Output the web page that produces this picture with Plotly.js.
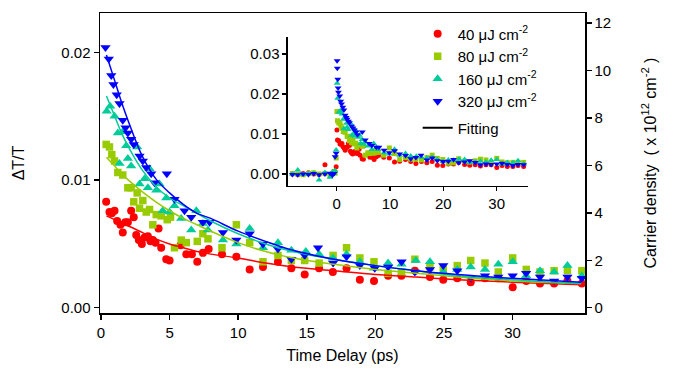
<!DOCTYPE html>
<html><head><meta charset="utf-8">
<script src="https://cdn.plot.ly/plotly-3.0.1.min.js"></script>
<style>html,body{margin:0;padding:0;background:#fff}#plot{width:681px;height:373px}</style>
</head><body><div id="plot"></div>
<script>
// ---- series labels ----
const seriesNames = ['40 μJ cm<sup>-2</sup>','80 μJ cm<sup>-2</sup>','160 μJ cm<sup>-2</sup>','320 μJ cm<sup>-2</sup>'];
const fitName = 'Fitting';

// ---- main data (t in ps, ΔT/T) ----
const t40 = [0.38,0.62,0.79,0.99,1.18,1.42,1.59,1.77,1.96,2.2,2.39,2.57,2.76,2.98,3.18,3.42,3.61,3.78,3.98,4.2,4.39,4.76,5.0,5.8,6.22,6.63,7.02,7.43,7.85,8.82,9.87,10.84,11.81,12.9,13.88,14.85,15.9,16.9,17.9,18.87,19.9,20.93,21.9,22.88,23.98,24.95,25.97,26.95,27.99,28.96,30.01,31.0,32.0,33.03,34.0,35.05];
const v40 = [0.0083,0.0075,0.0074,0.0076,0.0068,0.0065,0.0059,0.0067,0.0067,0.0076,0.0071,0.0057,0.0053,0.0050,0.0055,0.0056,0.0052,0.0053,0.0051,0.0062,0.0047,0.0038,0.0037,0.0049,0.0042,0.0042,0.0036,0.0043,0.0046,0.0042,0.0040,0.0030,0.0032,0.0036,0.0031,0.0026,0.0031,0.0028,0.0031,0.0022,0.0021,0.0025,0.0025,0.0029,0.0024,0.0022,0.0023,0.0020,0.0023,0.0023,0.0016,0.0021,0.0019,0.0019,0.0021,0.0019];

const t80 = [0.38,0.62,0.79,0.99,1.23,1.59,1.96,2.2,2.39,2.64,2.81,3.05,3.3,3.54,3.78,4.03,4.39,4.83,5.07,5.36,5.85,6.22,7.02,7.43,7.8,8.82,9.87,10.84,11.81,12.9,13.88,14.85,15.9,16.92,17.9,18.87,19.9,20.93,21.9,22.88,23.98,24.95,25.97,26.95,27.99,28.96,30.01,31.0,32.0,33.03,34.0,35.05];
const v80 = [0.0128,0.0126,0.0120,0.0115,0.0106,0.0104,0.0094,0.0094,0.0083,0.0090,0.0078,0.0084,0.0075,0.0077,0.0065,0.0073,0.0072,0.0069,0.0071,0.0047,0.0053,0.0051,0.0052,0.0058,0.0054,0.0047,0.0065,0.0051,0.0036,0.0041,0.0037,0.0037,0.0035,0.0041,0.0047,0.0039,0.0036,0.0027,0.0028,0.0038,0.0032,0.0030,0.0033,0.0037,0.0035,0.0028,0.0039,0.0030,0.0028,0.0029,0.0029,0.0029];

const t160 = [0.42,0.67,0.99,1.23,1.35,1.59,1.84,1.96,2.2,2.64,2.81,3.18,3.42,3.54,4.03,4.27,4.5,4.76,5.0,5.36,5.85,6.58,6.95,7.43,7.8,8.89,9.87,10.84,11.81,12.9,13.88,14.93,15.9,16.9,17.9,18.87,19.9,20.93,21.91,22.95,23.98,24.95,25.97,26.95,27.99,28.96,30.01,30.99,32.0,33.03,34.0,35.05];
const v160 = [0.0154,0.0158,0.0150,0.0137,0.0113,0.0138,0.0127,0.0117,0.0111,0.0126,0.0097,0.0101,0.0094,0.0109,0.0092,0.0097,0.0076,0.0086,0.0075,0.0080,0.0070,0.0061,0.0076,0.0066,0.0061,0.0053,0.0050,0.0062,0.0047,0.0051,0.0045,0.0044,0.0042,0.0039,0.0042,0.0036,0.0031,0.0035,0.0034,0.0037,0.0036,0.0028,0.0030,0.0032,0.0030,0.0034,0.0036,0.0025,0.0029,0.0028,0.0033,0.0025];

const t320 = [0.33,0.57,0.75,0.91,1.15,1.35,1.59,1.79,1.96,2.2,2.39,2.81,3.05,3.3,3.66,3.9,4.8,5.36,6.09,6.58,7.43,7.92,8.89,9.87,10.84,11.81,12.9,13.88,14.85,15.82,16.92,17.9,18.87,19.96,20.93,21.91,22.88,23.98,24.95,25.97,26.95,27.99,28.96,30.01,30.99,32.0,33.03,34.0,35.05];
const v320 = [0.0204,0.0195,0.0182,0.0175,0.0167,0.0160,0.0147,0.0141,0.0137,0.0132,0.0128,0.0119,0.0115,0.0110,0.0105,0.0098,0.0105,0.0085,0.0076,0.0071,0.0067,0.0067,0.0059,0.0053,0.0058,0.0050,0.0046,0.0038,0.0041,0.0047,0.0035,0.0040,0.0033,0.0031,0.0032,0.0036,0.0028,0.0030,0.0033,0.0029,0.0023,0.0025,0.0024,0.0025,0.0027,0.0024,0.0021,0.0024,0.0023];

// ---- fitted curves ----
const tFit = [0.4,1,1.5,2,3,4,5,6,7,8,10,12,14,17,20,23,26,30,35];
const f40  = [0.0072,0.0069,0.0066,0.0064,0.0059,0.0054,0.0050,0.0047,0.0044,0.0042,0.0039,0.0035,0.0032,0.0029,0.0026,0.0024,0.0022,0.0020,0.0018];
const f80  = [0.0118,0.0111,0.0105,0.0100,0.0091,0.0083,0.0076,0.0070,0.0065,0.0060,0.0051,0.0044,0.0039,0.0034,0.0030,0.0027,0.0024,0.0021,0.0019];
const f160 = [0.0166,0.0150,0.0137,0.0126,0.0108,0.0095,0.0086,0.0080,0.0074,0.0068,0.0058,0.0050,0.0044,0.0038,0.0033,0.0029,0.0025,0.0022,0.0019];
const f320 = [0.0198,0.0178,0.0161,0.0146,0.0119,0.0101,0.0090,0.0081,0.0074,0.0070,0.0060,0.0052,0.0045,0.0038,0.0033,0.0029,0.0026,0.0023,0.0020];

// ---- inset: data before/around time zero ----
const tPre = [-9.2,-8.3,-7.3,-6.3,-5.3,-4.3,-3.3,-2.2,-1.25,-0.8,-0.5,-0.3,-0.1];
const pre40  = [0.0001,0.0000,-0.0002,0.0001,0.0003,0.0000,-0.0001,0.0023,-0.0030,0.0002,0.0004,0.0006,0.0018];
const pre80  = [0.0002,0.0001,0.0000,-0.0002,0.0001,0.0003,0.0000,0.0001,-0.0004,0.0001,0.0006,0.0002,0.0040];
const pre160 = [0.0003,0.0000,0.0010,-0.0001,0.0001,0.0002,-0.0015,0.0004,-0.0008,0.0005,0.0002,0.0008,0.0060];
const pre320 = [0.0001,-0.0001,-0.0002,0.0000,-0.0001,0.0001,-0.0002,0.0000,0.0002,-0.0003,0.0001,0.0043,0.0052];
const tPk40 = [0.05,0.15], pk40 = [0.0110,0.0085];
const tPk80 = [0.05,0.15], pk80 = [0.0156,0.0133];
const tPk160 = [0.08,0.18], pk160 = [0.0227,0.0189];
const tPk320 = [0.03,0.08,0.12,0.2,0.26], pk320 = [0.0345,0.0283,0.0264,0.0237,0.0215];

// ---- styles ----
const colors = ['#ff0000','#99cc00','#00cc99','#0000ff'];
const symbols = ['circle','square','triangle-up','triangle-down'];
const sizes = [8,7.5,9,9];
const inSizes = [5,5,6,6];

const T = [t40,t80,t160,t320], V=[v40,v80,v160,v320], F=[f40,f80,f160,f320];
const P = [pre40,pre80,pre160,pre320];
const TK = [tPk40,tPk80,tPk160,tPk320], PK=[pk40,pk80,pk160,pk320];

const traces = [];
for (let i=0;i<4;i++){
  traces.push({x:T[i], y:V[i], type:'scatter', mode:'markers', name:seriesNames[i],
    marker:{color:colors[i], symbol:symbols[i], size:sizes[i], line:{width:0}},
    xaxis:'x', yaxis:'y', legendgroup:'d', showlegend:true});
}
for (let i=0;i<4;i++){
  traces.push({x:tFit, y:F[i], type:'scatter', mode:'lines', line:{color:colors[i], width:1.5, shape:'spline'},
    xaxis:'x', yaxis:'y', showlegend:false, hoverinfo:'skip'});
}
traces.push({x:[null], y:[null], type:'scatter', mode:'lines', name:fitName, line:{color:'#000', width:2},
  xaxis:'x', yaxis:'y', legendgroup:'f', showlegend:true});
for (let i=0;i<4;i++){
  traces.push({x:tPre.concat(TK[i], T[i]), y:P[i].concat(PK[i], V[i]), type:'scatter', mode:'markers',
    marker:{color:colors[i], symbol:symbols[i], size:inSizes[i], line:{width:0}},
    xaxis:'x2', yaxis:'y3', showlegend:false, cliponaxis:false});
}
// carrier density axis anchor trace (invisible)
traces.push({x:[0], y:[0], type:'scatter', mode:'markers', marker:{opacity:0}, xaxis:'x', yaxis:'y2', showlegend:false});

const fnt = {family:'Arial, "Liberation Sans", sans-serif', size:15, color:'#000'};
const tfnt = {family:'Arial, "Liberation Sans", sans-serif', size:16, color:'#000'};
const ax = {showline:true, linecolor:'#000', linewidth:1.5, ticks:'outside', ticklen:5, tickwidth:1.5, tickcolor:'#000',
  showgrid:false, zeroline:false, tickfont:fnt};

const layout = {
  width:681, height:373, margin:{l:100, r:96, t:13, b:60},
  paper_bgcolor:'#fff', plot_bgcolor:'rgba(0,0,0,0)',
  font:fnt, showlegend:true,
  xaxis:Object.assign({}, ax, {domain:[0,1], range:[-0.07,35.28], tickvals:[0,5,10,15,20,25,30], mirror:true,
    title:{text:'Time Delay (ps)', font:tfnt, standoff:10}, anchor:'y'}),
  yaxis:Object.assign({}, ax, {range:[-0.000414,0.0231], tickvals:[0,0.01,0.02], tickformat:'.2f',
    title:{text:'ΔT/T', font:tfnt, standoff:32}, anchor:'x'}),
  yaxis2:Object.assign({}, ax, {overlaying:'y', side:'right', range:[-0.2227,12.42], tickvals:[0,2,4,6,8,10,12],
    title:{text:'Carrier density  ( x 10<sup>12</sup> cm<sup>-2</sup> )', font:tfnt, standoff:34}, anchor:'x'}),
  xaxis2:Object.assign({}, ax, {domain:[0.3876,0.8825], range:[-9.13,35.87], tickvals:[0,10,20,30], anchor:'y3', ticklen:4}),
  yaxis3:Object.assign({}, ax, {domain:[0.4243,0.921], range:[-0.00293,0.0343], tickvals:[0,0.01,0.02,0.03], tickformat:'.2f', anchor:'x2', ticklen:4}),
  legend:{x:0.655, y:0.985, xanchor:'left', yanchor:'top', bgcolor:'rgba(0,0,0,0)', borderwidth:0,
    font:fnt, traceorder:'grouped', tracegroupgap:4, itemwidth:30}
};
Plotly.newPlot('plot', traces, layout, {staticPlot:true, displayModeBar:false});
</script></body></html>
